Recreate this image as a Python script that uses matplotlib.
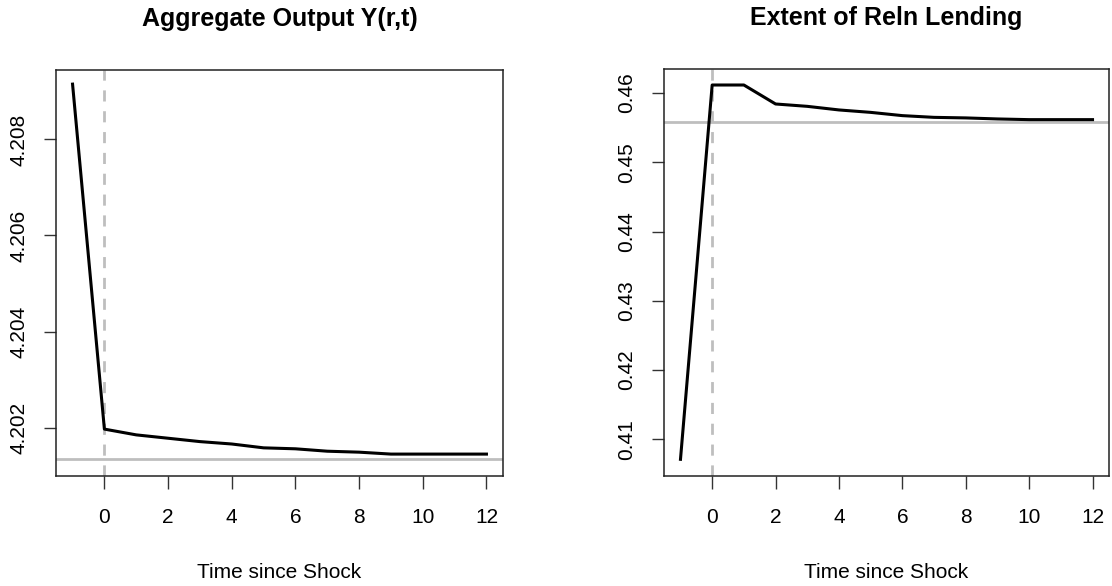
import numpy as np
import matplotlib.pyplot as plt

plt.rcParams['font.family'] = ['Liberation Sans', 'DejaVu Sans']

# impulse responses, periods relative to the shock
t = [-1, 0, 1, 2, 3, 4, 5, 6, 7, 8, 9, 10, 11, 12]
output_y = [4.20915, 4.20197, 4.20185, 4.20178, 4.20171, 4.20166, 4.20158,
            4.20156, 4.20151, 4.20149, 4.20145, 4.20145, 4.20145, 4.20145]
output_ss = 4.20134
reln_lending = [0.40712, 0.46115, 0.46115, 0.45841, 0.45807, 0.45755, 0.45720,
                0.45673, 0.45648, 0.45640, 0.45625, 0.45615, 0.45615, 0.45615]
reln_ss = 0.45587

xticks = [0, 2, 4, 6, 8, 10, 12]
yticks_left = [4.202, 4.204, 4.206, 4.208]
yticks_right = [0.41, 0.42, 0.43, 0.44, 0.45, 0.46]

GRAY = '#bebebe'

fig = plt.figure(figsize=(11.12, 5.86), dpi=100)
ax1 = fig.add_axes([56/1112, 1-476/586, (503-56)/1112, (476-70)/586])
ax2 = fig.add_axes([664/1112, 1-476/586, (1109-664)/1112, (476-69)/586])


def panel(ax, y, ss, title, yticks, ylim, ylabels):
    ax.axhline(ss, color=GRAY, lw=2, zorder=1)
    ax.axvline(0, color=GRAY, lw=2, ls=(0, (4, 3.5)), zorder=1)
    ax.plot(t, y, color='black', lw=2.2, zorder=3)
    ax.set_xlim(-1.52, 12.52)
    ax.set_ylim(*ylim)
    ax.set_xticks(xticks)
    ax.set_xticklabels([str(v) for v in xticks])
    ax.set_yticks(yticks)
    ax.set_yticklabels(ylabels, rotation=90, va='center')
    ax.tick_params(axis='both', labelsize=15, length=9, width=1, color='#333333')
    ax.tick_params(axis='x', pad=14)
    ax.tick_params(axis='y', pad=11)
    for s in ax.spines.values():
        s.set_linewidth(1.1)
        s.set_color('#222222')
    ax.set_title(title, fontsize=18, fontweight='bold', pad=32)
    ax.set_xlabel('Time since Shock', fontsize=15, labelpad=26)


panel(ax1, output_y, output_ss, 'Aggregate Output Y(r,t)', yticks_left,
      (4.200994, 4.209444), ['4.202', '4.204', '4.206', '4.208'])
panel(ax2, reln_lending, reln_ss, 'Extent of Reln Lending', yticks_right,
      (0.40471, 0.46346), ['0.41', '0.42', '0.43', '0.44', '0.45', '0.46'])

fig.savefig('out.png', dpi=100)
